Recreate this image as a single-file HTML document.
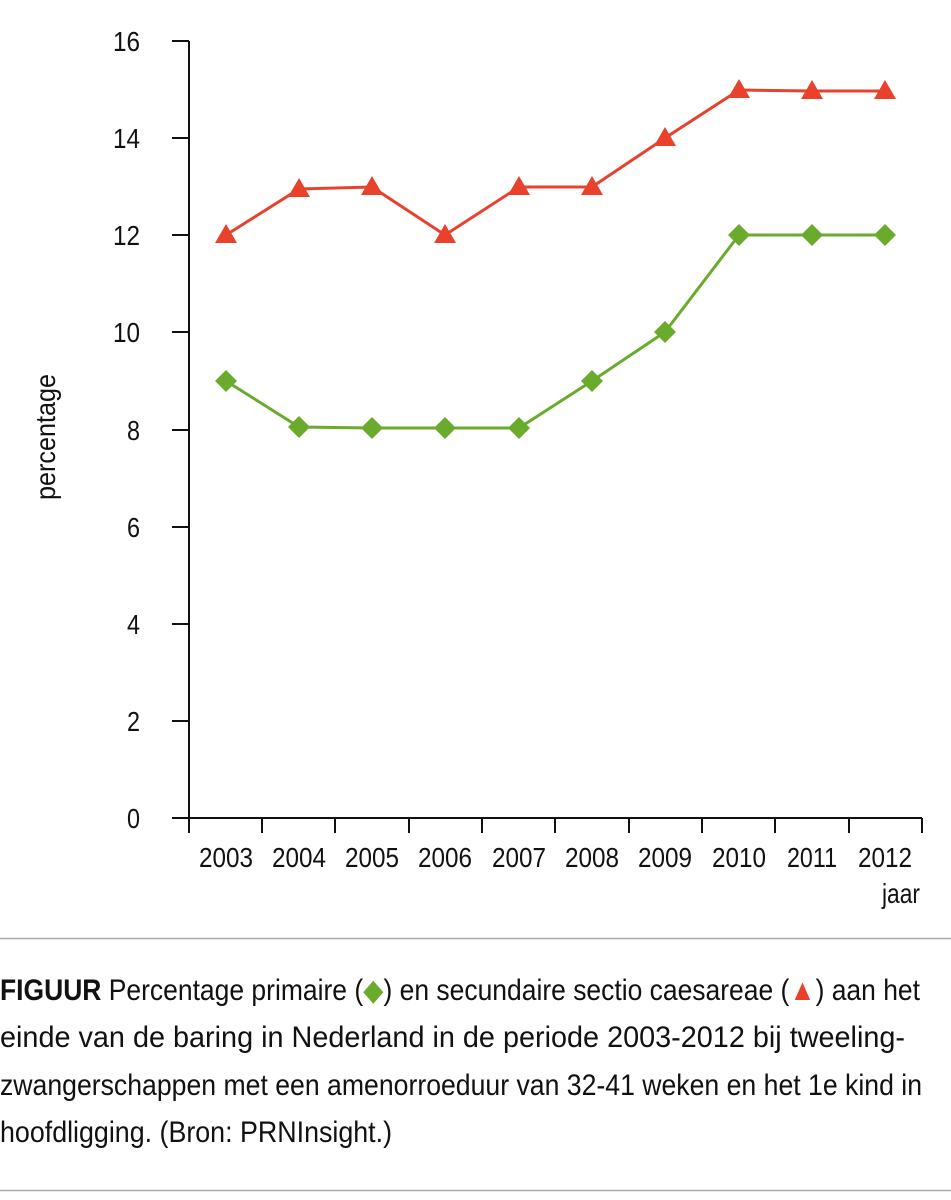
<!DOCTYPE html>
<html><head><meta charset="utf-8"><style>
html,body{margin:0;padding:0;background:#fff;}
svg{display:block;}
text{font-family:"Liberation Sans",sans-serif;fill:#111;}
</style></head><body>
<svg width="951" height="1200" viewBox="0 0 951 1200" xmlns="http://www.w3.org/2000/svg">
<g stroke="#111" stroke-width="2" fill="none">
<line x1="189" y1="41" x2="189" y2="833"/>
<line x1="172" y1="818" x2="922" y2="818"/>
<line x1="172" y1="41" x2="189" y2="41"/>
<line x1="172" y1="138" x2="189" y2="138"/>
<line x1="172" y1="235" x2="189" y2="235"/>
<line x1="172" y1="332" x2="189" y2="332"/>
<line x1="172" y1="430" x2="189" y2="430"/>
<line x1="172" y1="527" x2="189" y2="527"/>
<line x1="172" y1="624" x2="189" y2="624"/>
<line x1="172" y1="721" x2="189" y2="721"/>
<line x1="262" y1="818" x2="262" y2="833"/>
<line x1="335" y1="818" x2="335" y2="833"/>
<line x1="409" y1="818" x2="409" y2="833"/>
<line x1="482" y1="818" x2="482" y2="833"/>
<line x1="555" y1="818" x2="555" y2="833"/>
<line x1="629" y1="818" x2="629" y2="833"/>
<line x1="702" y1="818" x2="702" y2="833"/>
<line x1="775" y1="818" x2="775" y2="833"/>
<line x1="849" y1="818" x2="849" y2="833"/>
<line x1="922" y1="818" x2="922" y2="833"/>
</g>
<g font-size="28" text-anchor="end">
<text x="140" y="51" textLength="27" lengthAdjust="spacingAndGlyphs">16</text><text x="140" y="148" textLength="27" lengthAdjust="spacingAndGlyphs">14</text><text x="140" y="245" textLength="27" lengthAdjust="spacingAndGlyphs">12</text>
<text x="140" y="342" textLength="27" lengthAdjust="spacingAndGlyphs">10</text><text x="140" y="440" textLength="13" lengthAdjust="spacingAndGlyphs">8</text><text x="140" y="537" textLength="13" lengthAdjust="spacingAndGlyphs">6</text>
<text x="140" y="634" textLength="13" lengthAdjust="spacingAndGlyphs">4</text><text x="140" y="731" textLength="13" lengthAdjust="spacingAndGlyphs">2</text><text x="140" y="828" textLength="13" lengthAdjust="spacingAndGlyphs">0</text>
</g>
<g font-size="28" text-anchor="middle">
<text x="226" y="867" textLength="54" lengthAdjust="spacingAndGlyphs">2003</text><text x="299" y="867" textLength="54" lengthAdjust="spacingAndGlyphs">2004</text><text x="372" y="867" textLength="54" lengthAdjust="spacingAndGlyphs">2005</text>
<text x="445" y="867" textLength="54" lengthAdjust="spacingAndGlyphs">2006</text><text x="519" y="867" textLength="54" lengthAdjust="spacingAndGlyphs">2007</text><text x="592" y="867" textLength="54" lengthAdjust="spacingAndGlyphs">2008</text>
<text x="665" y="867" textLength="54" lengthAdjust="spacingAndGlyphs">2009</text><text x="739" y="867" textLength="54" lengthAdjust="spacingAndGlyphs">2010</text><text x="812" y="867" textLength="50" lengthAdjust="spacingAndGlyphs">2011</text>
<text x="885" y="867" textLength="54" lengthAdjust="spacingAndGlyphs">2012</text>
</g>
<text x="920" y="903" font-size="28" text-anchor="end" textLength="38" lengthAdjust="spacingAndGlyphs">jaar</text>
<text transform="translate(55,437) rotate(-90)" font-size="28" text-anchor="middle" textLength="126" lengthAdjust="spacingAndGlyphs">percentage</text>
<polyline fill="none" stroke="#e8412c" stroke-width="3" points="226,235 299,189 372,187 445,235 519,187 592,187 665,138 739,90 812,91 885,91"/>
<g fill="#e8412c">
<polygon points="226,224 237,243 215,243"/><polygon points="299,178 310,197 288,197"/>
<polygon points="372,176 383,195 361,195"/><polygon points="445,224 456,243 434,243"/>
<polygon points="519,176 530,195 508,195"/><polygon points="592,176 603,195 581,195"/>
<polygon points="665,127 676,146 654,146"/><polygon points="739,79 750,98 728,98"/>
<polygon points="812,80 823,99 801,99"/><polygon points="885,80 896,99 874,99"/>
</g>
<polyline fill="none" stroke="#6aab2e" stroke-width="3" points="226,381 299,427 372,428 445,428 519,428 592,381 665,332 739,235 812,235 885,235"/>
<g fill="#6aab2e">
<polygon points="226,370 237,381 226,392 215,381"/><polygon points="299,416 310,427 299,438 288,427"/>
<polygon points="372,417 383,428 372,439 361,428"/><polygon points="445,417 456,428 445,439 434,428"/>
<polygon points="519,417 530,428 519,439 508,428"/><polygon points="592,370 603,381 592,392 581,381"/>
<polygon points="665,321 676,332 665,343 654,332"/><polygon points="739,224 750,235 739,246 728,235"/>
<polygon points="812,224 823,235 812,246 801,235"/><polygon points="885,224 896,235 885,246 874,235"/>
</g>
<line x1="0" y1="938.5" x2="951" y2="938.5" stroke="#aaa" stroke-width="1.5"/>
<line x1="0" y1="1190.5" x2="951" y2="1190.5" stroke="#aaa" stroke-width="1.5"/>
<g font-size="30">
<text x="0" y="1000" textLength="920" lengthAdjust="spacingAndGlyphs"><tspan font-weight="bold">FIGUUR</tspan>  Percentage primaire (<tspan fill="#6aab2e">◆</tspan>) en secundaire sectio caesareae (<tspan fill="#e8412c">▲</tspan>) aan het</text>
<text x="0" y="1047" textLength="905" lengthAdjust="spacingAndGlyphs">einde van de baring in Nederland in de periode 2003-2012 bij tweeling-</text>
<text x="0" y="1095" textLength="922" lengthAdjust="spacingAndGlyphs">zwangerschappen met een amenorroeduur van 32-41 weken en het 1e kind in</text>
<text x="0" y="1142" textLength="392" lengthAdjust="spacingAndGlyphs">hoofdligging. (Bron: PRNInsight.)</text>
</g>
</svg>
</body></html>
